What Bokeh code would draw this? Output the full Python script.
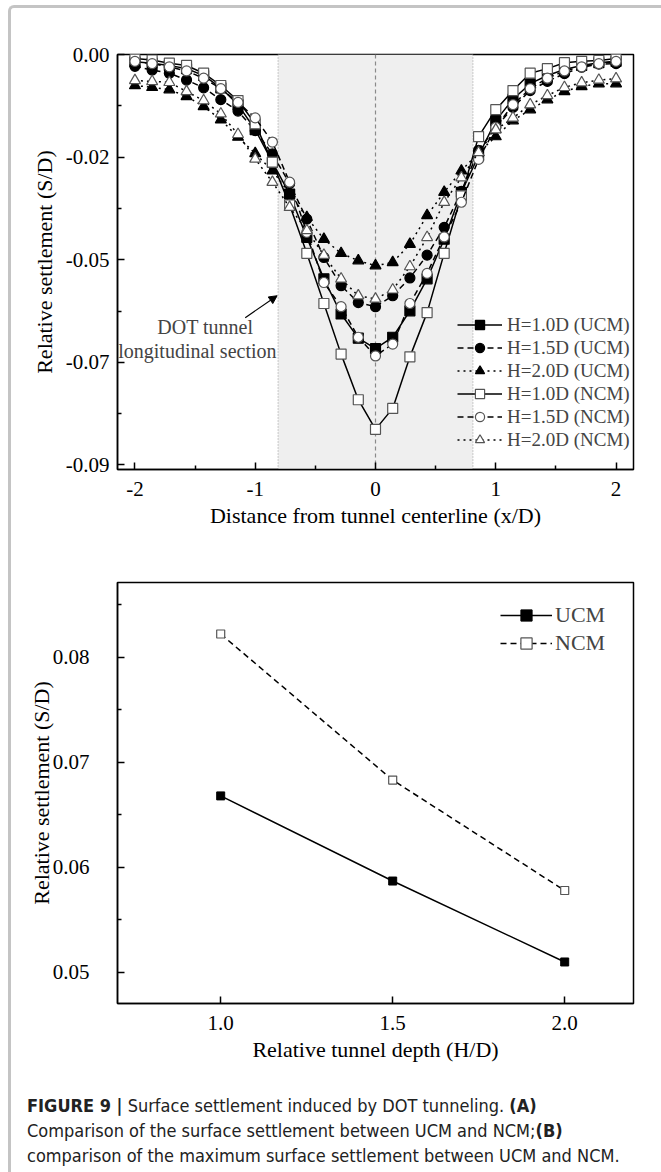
from bokeh.plotting import figure
from bokeh.models import (FixedTicker, BoxAnnotation, Span, Label, Arrow, NormalHead,
                          Legend, LegendItem, Div, NumeralTickFormatter)
from bokeh.layouts import column
from bokeh.embed import file_html
from bokeh.resources import INLINE

SERIF = "Liberation Serif"

# ---------------- Panel A data ----------------
x_pos = [-2.0, -1.857, -1.714, -1.571, -1.429, -1.286, -1.143, -1.0, -0.857, -0.714,
         -0.571, -0.429, -0.286, -0.143, 0.0, 0.143, 0.286, 0.429, 0.571, 0.714,
         0.857, 1.0, 1.143, 1.286, 1.429, 1.571, 1.714, 1.857, 2.0]

ucm_h10 = [-0.0016, -0.0019, -0.0024, -0.0031, -0.0046, -0.0073, -0.0110, -0.0165, -0.0236, -0.0306,
           -0.0401, -0.0492, -0.0569, -0.0622, -0.0645, -0.0620, -0.0562, -0.0492, -0.0405, -0.0302,
           -0.0222, -0.0145, -0.0098, -0.0064, -0.0046, -0.0033, -0.0024, -0.0018, -0.0015]
ucm_h15 = [-0.0026, -0.0034, -0.0041, -0.0056, -0.0073, -0.0099, -0.0124, -0.0167, -0.0218, -0.0283,
           -0.0361, -0.0445, -0.0507, -0.0544, -0.0553, -0.0529, -0.0490, -0.0440, -0.0379, -0.0300,
           -0.0210, -0.0160, -0.0116, -0.0079, -0.0059, -0.0042, -0.0028, -0.0021, -0.0020]
ucm_h20 = [-0.0068, -0.0072, -0.0077, -0.0092, -0.0114, -0.0143, -0.0181, -0.0217, -0.0255, -0.0305,
           -0.0357, -0.0405, -0.0436, -0.0452, -0.0463, -0.0456, -0.0416, -0.0353, -0.0302, -0.0255,
           -0.0215, -0.0180, -0.0145, -0.0121, -0.0099, -0.0081, -0.0070, -0.0064, -0.0064]
ncm_h10 = [-0.0009, -0.0012, -0.0019, -0.0024, -0.0041, -0.0068, -0.0101, -0.0152, -0.0236, -0.0330,
           -0.0436, -0.0546, -0.0657, -0.0757, -0.0822, -0.0776, -0.0663, -0.0566, -0.0436, -0.0310,
           -0.0180, -0.0121, -0.0079, -0.0041, -0.0031, -0.0018, -0.0015, -0.0013, -0.0009]
ncm_h15 = [-0.0015, -0.0020, -0.0027, -0.0036, -0.0052, -0.0075, -0.0105, -0.0139, -0.0192, -0.0280,
           -0.0390, -0.0500, -0.0553, -0.0620, -0.0661, -0.0635, -0.0546, -0.0480, -0.0400, -0.0324,
           -0.0230, -0.0160, -0.0110, -0.0075, -0.0052, -0.0036, -0.0027, -0.0020, -0.0015]
ncm_h20 = [-0.0057, -0.0059, -0.0061, -0.0081, -0.0101, -0.0130, -0.0175, -0.0229, -0.0280, -0.0335,
           -0.0386, -0.0440, -0.0492, -0.0529, -0.0536, -0.0516, -0.0465, -0.0401, -0.0324, -0.0270,
           -0.0215, -0.0165, -0.0139, -0.0110, -0.0090, -0.0072, -0.0062, -0.0056, -0.0053]

a_series_labels = ["H=1.0D (UCM)", "H=1.5D (UCM)", "H=2.0D (UCM)",
                   "H=1.0D (NCM)", "H=1.5D (NCM)", "H=2.0D (NCM)"]
a_yticks = [0.0, -0.0225, -0.045, -0.0675, -0.09]
a_ytick_labels = ["0.00", "-0.02", "-0.05", "-0.07", "-0.09"]
a_yminor = [-0.01125, -0.03375, -0.05625, -0.07875]
a_xticks = [-2, -1, 0, 1, 2]
a_xtick_labels = ["-2", "-1", "0", "1", "2"]
a_xminor = [-1.5, -0.5, 0.5, 1.5]
tunnel_edges = [-0.81, 0.81]

# ---------------- Panel B data ----------------
depth = [1.0, 1.5, 2.0]
max_ucm = [0.0668, 0.0587, 0.0510]
max_ncm = [0.0822, 0.0683, 0.0578]
b_yticks = [0.05, 0.06, 0.07, 0.08]
b_yminor = [0.055, 0.065, 0.075, 0.085]
b_xticks = [1.0, 1.5, 2.0]


def style_axes(p, tick_size="21px", label_size="22px"):
    for ax in p.axis:
        ax.major_label_text_font = SERIF
        ax.major_label_text_font_size = tick_size
        ax.major_label_text_color = "black"
        ax.axis_label_text_font = SERIF
        ax.axis_label_text_font_size = label_size
        ax.axis_label_text_font_style = "normal"
        ax.axis_label_text_color = "black"
        ax.axis_line_width = 1.5
        ax.axis_line_color = "black"
        ax.major_tick_line_width = 1.5
        ax.minor_tick_line_width = 1.5
        ax.major_tick_in = 7
        ax.major_tick_out = 0
        ax.minor_tick_in = 4
        ax.minor_tick_out = 0
    p.grid.visible = False
    p.outline_line_color = "black"
    p.outline_line_width = 1.5
    p.outline_line_alpha = 1


# ================= Panel A =================
pA = figure(width=642, height=532, x_range=(-2.145, 2.145), y_range=(-0.091, 0.0),
            output_backend="svg", toolbar_location=None,
            min_border_left=106, min_border_right=20, min_border_top=46, min_border_bottom=71,
            x_axis_label="Distance from tunnel centerline (x/D)",
            y_axis_label="Relative settlement (S/D)")
style_axes(pA)
pA.xaxis.ticker = FixedTicker(ticks=a_xticks, minor_ticks=a_xminor)
pA.xaxis.major_label_overrides = dict(zip(a_xticks, a_xtick_labels))
pA.xaxis.major_label_standoff = 12
pA.xaxis.axis_label_standoff = 4
pA.yaxis.ticker = FixedTicker(ticks=a_yticks, minor_ticks=a_yminor)
pA.yaxis.major_label_overrides = dict(zip(a_yticks, a_ytick_labels))
pA.yaxis.major_label_standoff = 8
pA.yaxis.axis_label_standoff = 6

pA.add_layout(BoxAnnotation(left=tunnel_edges[0], right=tunnel_edges[1], fill_color="#efefef",
                            fill_alpha=1.0, line_alpha=0, level="underlay"))
for xe in tunnel_edges:
    pA.add_layout(Span(location=xe, dimension="height", line_color="#9a9a9a", line_width=1,
                       line_dash="1 2", level="underlay"))
pA.add_layout(Span(location=0, dimension="height", line_color="#8a8a8a", line_width=1.2,
                   line_dash="4 3", level="underlay"))

a_series = [ucm_h10, ucm_h15, ucm_h20, ncm_h10, ncm_h15, ncm_h20]
markers = ["square", "circle", "triangle", "square", "circle", "triangle"]
dashes = ["solid", "6 4", "2 4", "solid", "6 4", "2 4"]
msize = [10, 10, 11, 10, 10, 11]
items = []
for i, ys in enumerate(a_series):
    ucm = i < 3
    ln = pA.line(x_pos, ys, line_color="black", line_width=1.5, line_dash=dashes[i])
    sc = pA.scatter(x_pos, ys, marker=markers[i], size=msize[i],
                    fill_color="black" if ucm else "white",
                    line_color="black" if ucm else "#555555", line_width=1.2)
    items.append(LegendItem(label=a_series_labels[i], renderers=[ln, sc]))

legA = Legend(items=items, location=(340, 18), padding=0, margin=0, spacing=0,
              glyph_width=45, glyph_height=23, label_height=23, label_standoff=5,
              label_text_font=SERIF, label_text_font_size="19px",
              background_fill_alpha=0, border_line_alpha=0)
pA.add_layout(legA)

pA.add_layout(Label(x=-1.415, y=-0.0597, text="DOT tunnel", text_align="center",
                    text_baseline="middle", text_font=SERIF, text_font_size="20px"))
pA.add_layout(Label(x=-1.481, y=-0.0650, text="longitudinal section", text_align="center",
                    text_baseline="middle", text_font=SERIF, text_font_size="20px"))
pA.add_layout(Arrow(x_start=-1.083, y_start=-0.0577, x_end=-0.818, y_end=-0.0529,
                    line_width=1.2, line_color="black",
                    end=NormalHead(size=8, fill_color="black", line_color="black")))
pA.add_layout(Label(x=-82, y=439, x_units="screen", y_units="screen", text="A",
                    text_baseline="top", text_font="Liberation Sans", text_font_style="bold",
                    text_font_size="24px"))

# ================= Panel B =================
pB = figure(width=642, height=548, x_range=(0.70, 2.20), y_range=(0.04705, 0.0871),
            output_backend="svg", toolbar_location=None,
            min_border_left=106, min_border_right=17, min_border_top=42, min_border_bottom=85,
            x_axis_label="Relative tunnel depth (H/D)",
            y_axis_label="Relative settlement (S/D)")
style_axes(pB)
pB.xaxis.ticker = FixedTicker(ticks=b_xticks, minor_ticks=[])
pB.xaxis.formatter = NumeralTickFormatter(format="0.0")
pB.xaxis.major_label_standoff = 12
pB.xaxis.axis_label_standoff = 4
pB.yaxis.ticker = FixedTicker(ticks=b_yticks, minor_ticks=b_yminor)
pB.yaxis.formatter = NumeralTickFormatter(format="0.00")
pB.yaxis.major_label_standoff = 28
pB.yaxis.axis_label_standoff = -4

l1 = pB.line(depth, max_ucm, line_color="black", line_width=1.5)
s1 = pB.scatter(depth, max_ucm, marker="square", size=8, fill_color="black", line_color="black")
l2 = pB.line(depth, max_ncm, line_color="black", line_width=1.5, line_dash="6 4")
s2 = pB.scatter(depth, max_ncm, marker="square", size=8, fill_color="white", line_color="#555555",
                line_width=1.2)
legB = Legend(items=[LegendItem(label="UCM", renderers=[l1, s1]),
                     LegendItem(label="NCM", renderers=[l2, s2])],
              location=(383, 346), padding=0, margin=0, spacing=0,
              glyph_width=52, glyph_height=28, label_height=28, label_standoff=3,
              label_text_font=SERIF, label_text_font_size="22px",
              background_fill_alpha=0, border_line_alpha=0)
pB.add_layout(legB)
pB.add_layout(Label(x=-82, y=445, x_units="screen", y_units="screen", text="B",
                    text_baseline="top", text_font="Liberation Sans", text_font_style="bold",
                    text_font_size="24px"))

caption = Div(
    text=("<b>FIGURE 9 |</b> Surface settlement induced by DOT tunneling. <b>(A)</b><br>"
          "Comparison of the surface settlement between UCM and NCM;<b>(B)</b><br>"
          "comparison of the maximum surface settlement between UCM and NCM."),
    width=642, height=74,
    styles={"font-family": "'Liberation Sans Narrow', 'DejaVu Sans Condensed', 'Roboto Condensed', Roboto, sans-serif",
            "font-size": "18px", "line-height": "25px", "color": "#222",
            "padding-left": "11px", "padding-top": "0px"})

layout = column(pA, pB, caption, margin=(5, 0, 0, 8),
                styles={"border-top": "3px solid #c4c4c4", "border-left": "3px solid #c4c4c4",
                        "border-top-left-radius": "6px"})

open("out.html", "w").write(file_html(layout, INLINE))
